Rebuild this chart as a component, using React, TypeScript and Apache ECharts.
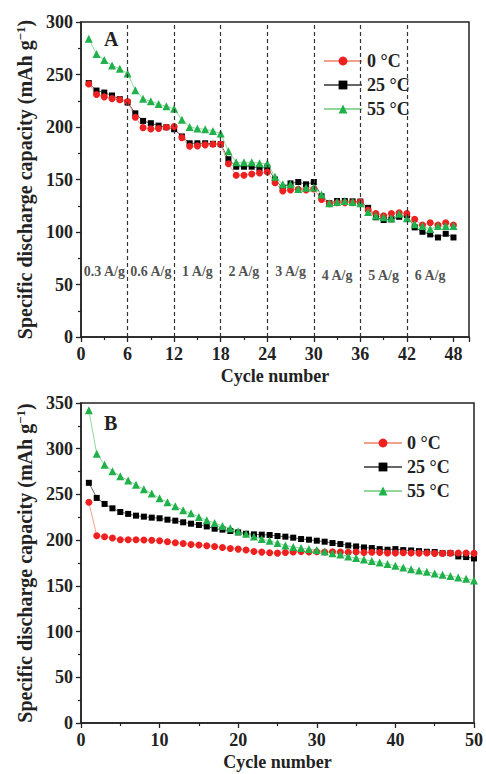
import React, { useEffect, useRef } from "react";
import * as echarts from "echarts";

const FONT = "Liberation Serif";

const seriesNames = ["0 °C", "25 °C", "55 °C"];

// Panel A: rate capability, cycles 1..48
const rateRed = [241, 231, 228.7, 227, 226, 224.3, 209.3, 199.4, 198.2, 198.5, 199.8, 200.4, 189.9, 181.7, 182, 183, 183.6, 183.6, 165, 154, 154, 155.3, 156.2, 157.2, 147, 139, 140, 140.6, 140, 141, 131, 127, 127.9, 128, 128, 128.5, 121, 117.7, 115.5, 117.7, 118.3, 117.7, 112, 106.6, 108.8, 106.6, 108.8, 106.6];
const rateBlack = [241.8, 234.7, 232.8, 230, 226.5, 223.3, 213, 205.8, 203.6, 201.3, 199.8, 197.9, 191, 184.5, 184.5, 184.5, 184, 183.6, 169.3, 162.2, 162.2, 162.2, 160.7, 161.5, 150, 142, 146.3, 147.6, 145.4, 147.6, 134, 127.5, 129.5, 129.5, 129.2, 129, 123, 114, 111.4, 112, 114.5, 116, 104.4, 100.2, 97.7, 94.8, 98.3, 94.8];
const rateGreen = [284, 269.5, 263.7, 258.6, 255.4, 251, 235, 226.8, 224.6, 221.8, 219.8, 217.3, 207, 200, 198.5, 197.9, 196.3, 193.7, 177, 166.4, 166.4, 166.4, 165.5, 165.2, 152.7, 145.4, 145.4, 141, 142.2, 142.5, 135.8, 127.3, 128.5, 129.5, 128.5, 127.3, 119, 115.5, 114, 113, 117.4, 113, 107.5, 105.6, 102.8, 105.6, 105.6, 105.6];

const rateDividers = [6, 12, 18, 24, 30, 36, 42];
const rateLabels = ["0.3 A/g", "0.6 A/g", "1 A/g", "2 A/g", "3 A/g", "4 A/g", "5 A/g", "6 A/g"];
const rateLabelX = [3, 9, 15, 21, 27, 33, 39, 45];
const rateLabelY = [62.6, 62.6, 62.6, 62.6, 62.6, 58.2, 58.2, 58.2];

// Panel B: cycling, cycles 1..50
const cycRed = [241.4, 204.9, 203.8, 202.3, 200.5, 200.5, 200.5, 200.1, 199.8, 199.4, 198.3, 197.2, 196.4, 195.3, 194.6, 193.9, 193.1, 192, 190.9, 190.2, 189.2, 187.6, 186.9, 186.2, 185.8, 186.5, 187, 187.5, 187, 187.3, 187, 187.3, 187, 186.8, 187, 186.5, 186.8, 186.5, 186, 186, 186.2, 186, 185.8, 186, 185.5, 185.5, 185.8, 186, 186, 185.5];
const cycBlack = [262.7, 246.2, 239.6, 234.8, 230.8, 228.7, 226.8, 225.7, 224.6, 223.9, 222.4, 221.3, 219.5, 218, 216.6, 215, 212.5, 211.5, 210, 208.5, 207, 206.3, 206, 205.6, 204.5, 203.8, 202.7, 201.2, 200.5, 199.4, 198.3, 196.8, 195.7, 194.2, 193.1, 192, 191.3, 190.2, 189.5, 190.2, 189.1, 188.7, 188, 187.3, 187, 185.8, 185.8, 182.2, 181.5, 180];
const cycGreen = [342, 294.5, 282.4, 275.4, 270, 265.2, 260.5, 255.7, 251, 245.8, 241.4, 237, 232.6, 229.3, 225.4, 221.7, 218.8, 215.5, 212.9, 209.6, 207, 204, 201.2, 199.4, 196.9, 194.2, 192.5, 191.3, 190.2, 189.1, 187.6, 185.8, 184.4, 182.2, 180.4, 178.9, 177.1, 175.6, 173.8, 172, 170.1, 168.3, 166.8, 165.4, 163.5, 162.1, 160.7, 159.1, 157.7, 155.8];

const toPairs = (arr: number[]) => arr.map((v, i) => [i + 1, v]);

const AXIS_COLOR = "#222";
const styles = {
  red: { marker: "#ee2020", line: "#f5a08c", symbol: "circle", size: 7 },
  black: { marker: "#000000", line: "#666666", symbol: "rect", size: 6 },
  green: { marker: "#1fb14a", line: "#8fd89a", symbol: "triangle", size: 8 },
};

function lineSeries(name: string, st: any, data: number[], idx: number, extra: any = {}) {
  return {
    type: "line",
    name,
    xAxisIndex: idx,
    yAxisIndex: idx,
    data: toPairs(data),
    symbol: st.symbol,
    symbolSize: st.size,
    itemStyle: { color: st.marker },
    lineStyle: { color: st.line, width: 1 },
    silent: true,
    ...extra,
  };
}

function xAxis(idx: number, interval: number, nameGap: number) {
  return {
    gridIndex: idx,
    type: "value",
    min: 0,
    max: 50,
    interval,
    axisLine: { show: true, onZero: false, lineStyle: { color: AXIS_COLOR, width: 1.5 } },
    axisTick: { show: true, length: 5, lineStyle: { color: AXIS_COLOR, width: 1.3 } },
    minorTick: { show: true, splitNumber: 2, length: 3, lineStyle: { color: AXIS_COLOR, width: 1.2 } },
    splitLine: { show: false },
    minorSplitLine: { show: false },
    axisLabel: {
      showMaxLabel: idx === 1,
      fontFamily: FONT,
      fontWeight: "bold",
      fontSize: 18,
      color: AXIS_COLOR,
      margin: 8,
    },
    name: "Cycle number",
    nameLocation: "middle",
    nameGap,
    nameTextStyle: { fontFamily: FONT, fontWeight: "bold", fontSize: 18, color: AXIS_COLOR },
  };
}

function yAxis(idx: number, max: number) {
  return {
    gridIndex: idx,
    type: "value",
    min: 0,
    max,
    interval: 50,
    axisLine: { show: true, onZero: false, lineStyle: { color: AXIS_COLOR, width: 1.5 } },
    axisTick: { show: true, length: 5, lineStyle: { color: AXIS_COLOR, width: 1.3 } },
    minorTick: { show: true, splitNumber: 2, length: 3, lineStyle: { color: AXIS_COLOR, width: 1.2 } },
    splitLine: { show: false },
    minorSplitLine: { show: false },
    axisLabel: { fontFamily: FONT, fontWeight: "bold", fontSize: 18, color: AXIS_COLOR, margin: 8 },
    name: "{a|Specific discharge capacity (mAh g}{s|−1}{a|)}",
    nameLocation: "middle",
    nameGap: 45,
    nameTextStyle: {
      rich: {
        a: { fontFamily: FONT, fontWeight: "bold", fontSize: 20, color: AXIS_COLOR, lineHeight: 22 },
        s: { fontFamily: FONT, fontWeight: "bold", fontSize: 13, color: AXIS_COLOR, lineHeight: 13, verticalAlign: "top" },
      },
    },
  };
}

function legend(left: number, top: number) {
  return {
    data: seriesNames,
    orient: "vertical",
    left,
    top,
    padding: 0,
    itemWidth: 38,
    itemHeight: 11,
    itemGap: 4,
    selectedMode: false,
    textStyle: { fontFamily: FONT, fontWeight: "bold", fontSize: 18, color: AXIS_COLOR, lineHeight: 20 },
  };
}

export default function App() {
  const ref = useRef<HTMLDivElement>(null);
  useEffect(() => {
    if (!ref.current) return;
    const chart = echarts.init(ref.current, null, { renderer: "svg" });
    const option: any = {
      animation: false,
      backgroundColor: "#ffffff",
      grid: [
        { left: 81, top: 22, width: 388, height: 315, show: true, borderColor: AXIS_COLOR, borderWidth: 1.5, backgroundColor: "transparent" },
        { left: 81, top: 403, width: 394, height: 320, show: true, borderColor: AXIS_COLOR, borderWidth: 1.5, backgroundColor: "transparent" },
      ],
      xAxis: [xAxis(0, 6, 30), xAxis(1, 10, 30)],
      yAxis: [yAxis(0, 300), yAxis(1, 350)],
      legend: [legend(323, 51), legend(363, 433)],
      series: [
        lineSeries(seriesNames[1], styles.black, rateBlack, 0, {
          markLine: {
            silent: true,
            symbol: ["none", "none"],
            label: { show: false },
            lineStyle: { type: [4, 3], color: "#333", width: 1.2 },
            data: rateDividers.map((x) => ({ xAxis: x })),
          },
        }),
        lineSeries(seriesNames[0], styles.red, rateRed, 0),
        lineSeries(seriesNames[2], styles.green, rateGreen, 0),
        {
          type: "scatter",
          xAxisIndex: 0,
          yAxisIndex: 0,
          symbolSize: 1,
          itemStyle: { color: "rgba(0,0,0,0)" },
          silent: true,
          label: {
            show: true,
            position: "inside",
            formatter: "{b}",
            fontFamily: FONT,
            fontWeight: "bold",
            fontSize: 14,
            color: AXIS_COLOR,
          },
          data: rateLabels.map((t, i) => ({ name: t, value: [rateLabelX[i], rateLabelY[i]] })),
        },
        lineSeries(seriesNames[1], styles.black, cycBlack, 1),
        lineSeries(seriesNames[0], styles.red, cycRed, 1),
        lineSeries(seriesNames[2], styles.green, cycGreen, 1),
      ],
      graphic: [
        { type: "text", left: 104, top: 29, style: { text: "A", font: `bold 20px "${FONT}"`, fill: AXIS_COLOR } },
        { type: "text", left: 104, top: 413, style: { text: "B", font: `bold 20px "${FONT}"`, fill: AXIS_COLOR } },
      ],
    };
    chart.setOption(option);
    return () => chart.dispose();
  }, []);
  return <div ref={ref} style={{ position: "fixed", left: 0, top: 0, width: 486, height: 774 }} />;
}
